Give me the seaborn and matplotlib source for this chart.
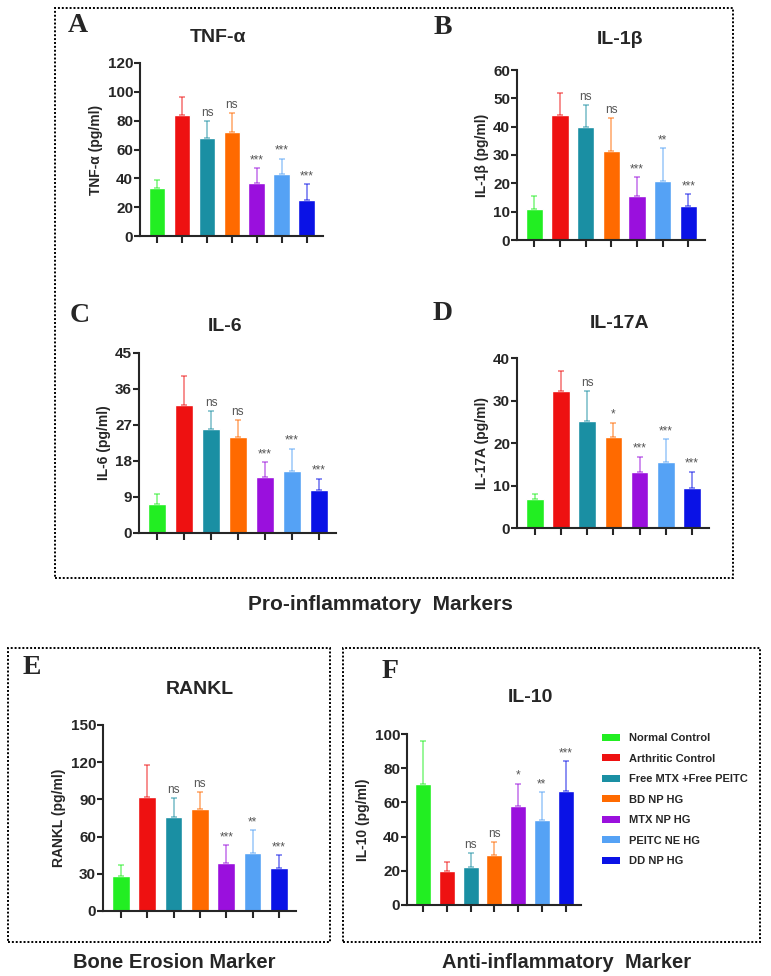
import numpy as np
import pandas as pd
import seaborn as sns
import matplotlib.pyplot as plt
from matplotlib.patches import Rectangle, Patch

# groups and colours
groups = ['Normal Control', 'Arthritic Control', 'Free MTX +Free PEITC',
          'BD NP HG', 'MTX NP HG', 'PEITC NE HG', 'DD NP HG']
colors = ['#22ee22', '#ee1111', '#1a8fa3', '#ff6a00', '#9a10dd', '#55a2f5', '#0a12e6']

# panel values (mean, SD, significance)
tnf_mean = [33, 84, 68, 72, 36.5, 43, 25]
tnf_sd = [6, 12.5, 11.5, 13, 10.5, 10.5, 11]
tnf_sig = ['', '', 'ns', 'ns', '***', '***', '***']

il1b_mean = [11, 44, 40, 31.5, 15.5, 21, 12]
il1b_sd = [4.7, 8, 7.7, 11.5, 6.7, 11.3, 4.2]
il1b_sig = ['', '', 'ns', 'ns', '***', '**', '***']

il6_mean = [7.2, 32, 26, 24, 14, 15.5, 10.8]
il6_sd = [2.6, 7.2, 4.5, 4.2, 3.7, 5.5, 2.7]
il6_sig = ['', '', 'ns', 'ns', '***', '***', '***']

il17_mean = [6.8, 32.2, 25.2, 21.4, 13.2, 15.5, 9.5]
il17_sd = [1.2, 4.8, 7.1, 3.4, 3.6, 5.4, 3.7]
il17_sig = ['', '', 'ns', '*', '***', '***', '***']

rankl_mean = [28, 92, 76, 82, 39, 47, 35]
rankl_sd = [9, 26, 15, 14, 14, 18, 10]
rankl_sig = ['', '', 'ns', 'ns', '***', '**', '***']

il10_mean = [71, 20, 22.5, 29, 58, 50, 66.5]
il10_sd = [25, 5, 8, 8, 13, 16, 17.5]
il10_sig = ['', '', 'ns', 'ns', '*', '**', '***']

W, H = 771, 976
sns.set_style('ticks')
plt.rcParams['font.family'] = ['Liberation Sans', 'DejaVu Sans']
fig = plt.figure(figsize=(W / 100, H / 100), dpi=100)


def px_axes(left, top, right, bottom):
    return fig.add_axes([left / W, 1 - bottom / H, (right - left) / W, (bottom - top) / H])


def panel(box, means, sds, sig, ymax, ystep, ylabel, title, title_xy, letter, letter_xy):
    ax = px_axes(*box)
    df = pd.DataFrame({'group': groups, 'value': means})
    sns.barplot(data=df, x='group', y='value', hue='group', palette=colors,
                order=groups, hue_order=groups, errorbar=None, width=0.67,
                legend=False, ax=ax, saturation=1)
    for i, (m, s, c) in enumerate(zip(means, sds, colors)):
        ax.errorbar(i, m, yerr=[[0], [s]], fmt='none', ecolor=c, alpha=0.55,
                    elinewidth=1.2, capsize=2.5, capthick=1.2)
        if sig[i]:
            ax.annotate(sig[i], (i, m + s), xytext=(0, 1.5), textcoords='offset points',
                        ha='center', va='bottom', fontsize=8.5, color='#555555')
    ax.set_xlim(-0.68, 6.65)
    ax.set_ylim(0, ymax)
    ax.set_yticks(np.arange(0, ymax + 0.1, ystep))
    ax.set_xticks(range(7))
    ax.set_xticklabels([])
    ax.set_xlabel('')
    ax.set_ylabel(ylabel, fontsize=10, fontweight='bold', labelpad=3)
    for lab in ax.get_yticklabels():
        lab.set_fontweight('bold')
    ax.tick_params(axis='y', labelsize=11, width=1.5, length=4, pad=1)
    ax.tick_params(axis='x', width=1.5, length=5)
    sns.despine(ax=ax)
    for sp in ['left', 'bottom']:
        ax.spines[sp].set_linewidth(1.5)
    fig.text(title_xy[0] / W, 1 - title_xy[1] / H, title, ha='center', va='center',
             fontsize=14, fontweight='bold')
    fig.text(letter_xy[0] / W, 1 - letter_xy[1] / H, letter, ha='center', va='center',
             fontsize=20, fontweight='bold', family='Liberation Serif')
    return ax


panel((140, 63, 323, 236), tnf_mean, tnf_sd, tnf_sig, 120, 20, 'TNF-α (pg/ml)',
      'TNF-α', (218, 37), 'A', (78, 25))
panel((517, 70, 705, 240), il1b_mean, il1b_sd, il1b_sig, 60, 10, 'IL-1β (pg/ml)',
      'IL-1β', (620, 40), 'B', (443, 28))
panel((139, 353, 336, 533), il6_mean, il6_sd, il6_sig, 45, 9, 'IL-6 (pg/ml)',
      'IL-6', (225, 326), 'C', (80, 315))
panel((517, 358, 709, 528), il17_mean, il17_sd, il17_sig, 40, 10, 'IL-17A (pg/ml)',
      'IL-17A', (620, 323), 'D', (443, 313))
panel((103, 725, 296, 911), rankl_mean, rankl_sd, rankl_sig, 150, 30, 'RANKL (pg/ml)',
      'RANKL', (200, 690), 'E', (32, 668))
panel((407, 734, 581, 905), il10_mean, il10_sd, il10_sig, 100, 20, 'IL-10 (pg/ml)',
      'IL-10', (530, 697), 'F', (390, 672))

# legend for panel F
handles = [Patch(facecolor=c, edgecolor='none') for c in colors]
leg = fig.legend(handles, groups, loc='upper left',
                 bbox_to_anchor=(592 / W, 1 - 723 / H), frameon=False,
                 prop={'size': 8, 'weight': 'bold'}, labelspacing=0.95,
                 handlelength=1.6, handleheight=0.6, handletextpad=0.8)

# dotted group boxes
for (x0, y0, x1, y1) in [(55, 8, 733, 578), (8, 648, 330, 942), (343, 648, 760, 942)]:
    fig.patches.append(Rectangle((x0 / W, 1 - y1 / H), (x1 - x0) / W, (y1 - y0) / H,
                                 transform=fig.transFigure, fill=False, edgecolor='black',
                                 linestyle=(0, (1, 1)), linewidth=1.4))

fig.text(380 / W, 1 - 604 / H, 'Pro-inflammatory  Markers', ha='center', va='center',
         fontsize=15, fontweight='bold')
fig.text(174 / W, 1 - 962 / H, 'Bone Erosion Marker', ha='center', va='center',
         fontsize=14.5, fontweight='bold')
fig.text(567 / W, 1 - 962 / H, 'Anti-inflammatory  Marker', ha='center', va='center',
         fontsize=14.5, fontweight='bold')

fig.savefig('out.png', dpi=100)
